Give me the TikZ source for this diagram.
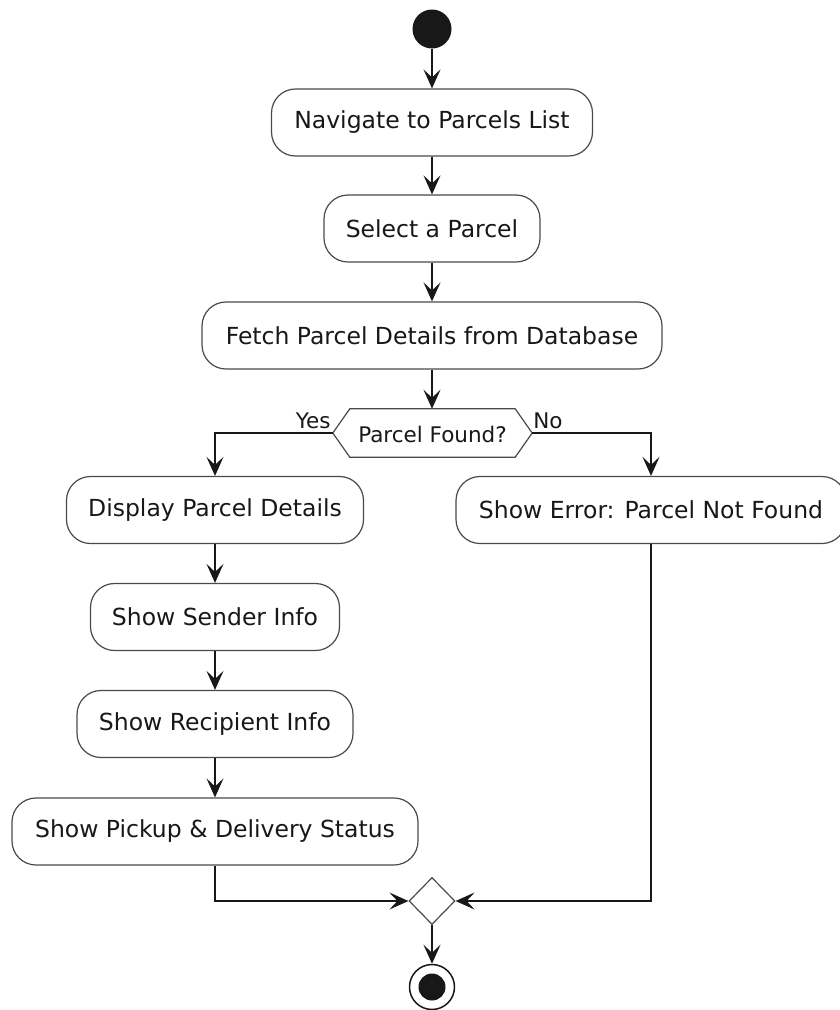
\documentclass[tikz,border=0pt]{standalone}
\usepackage{fontspec}
\setmainfont{DejaVu Sans}
\usetikzlibrary{arrows.meta,shapes.geometric}
\definecolor{ink}{HTML}{181818}
\definecolor{edge}{HTML}{4A4A4A}
\begin{document}
\begin{tikzpicture}[x=1pt,y=-1pt,
  act/.style={draw=edge, line width=1.2pt, fill=white, rounded corners=24pt,
    minimum height=67pt, inner sep=0pt, font=\fontsize{23.5}{28}\selectfont, text=ink},
  flow/.style={draw=ink, line width=1.7pt, -{Stealth[length=19pt,width=17pt,inset=8pt]}},
  small/.style={font=\fontsize{21.5}{26}\selectfont, text=ink, inner sep=0pt},
]
\useasboundingbox (0,0) rectangle (840,1010);

% start / end markers
\node[circle, fill=ink, minimum size=39pt, inner sep=0pt] (start) at (432,29) {};
\node[circle, draw=ink, line width=1.5pt, fill=white, minimum size=45pt, inner sep=0pt] (stop) at (432,987) {};
\node[circle, fill=ink, minimum size=27pt, inner sep=0pt] (stopdot) at (stop) {};

% main column
\node[act, minimum width=321pt] (nav)   at (432,122.5) {Navigate to Parcels List};
\node[act, minimum width=216pt] (sel)   at (432,228.5) {Select a Parcel};
\node[act, minimum width=460pt] (fetch) at (432,335.5) {Fetch Parcel Details from Database};

% decision
\node[small, minimum width=199pt, minimum height=48pt] (dec) at (432.5,433) {};
\draw[edge, line width=1.2pt, fill=white]
  (dec.west) -- ([xshift=17pt]dec.north west) -- ([xshift=-17pt]dec.north east)
  -- (dec.east) -- ([xshift=-17pt]dec.south east) -- ([xshift=17pt]dec.south west) -- cycle;
\node[small] (dectext) at ([yshift=-1.5pt]dec.center) {Parcel Found?};
\node[small, anchor=base east] (yes) at ([xshift=-2pt,yshift=5pt]dec.west) {Yes};
\node[small, anchor=base west] (no)  at ([xshift=1pt,yshift=5pt]dec.east) {No};

% branches
\node[act, minimum width=297pt] (disp)  at (215,510) {Display Parcel Details};
\node[act, minimum width=249pt] (send)  at (215,617) {Show Sender Info};
\node[act, minimum width=276pt] (recip) at (215,724) {Show Recipient Info};
\node[act, minimum width=406pt] (pick)  at (215,831.5) {Show Pickup \& Delivery Status};
\node[act, minimum width=390pt] (err)   at (651,510) {Show Error: Parcel Not Found};

% merge
\node[diamond, draw=edge, line width=1.2pt, fill=white, minimum width=46pt,
  minimum height=47pt, inner sep=0pt] (merge) at (432,901) {};

% connectors
\draw[flow] (start) -- (nav);
\draw[flow] (nav) -- (sel);
\draw[flow] (sel) -- (fetch);
\draw[flow] (fetch.south) -- (fetch.south |- dec.north);
\draw[flow] (dec.west) -| (disp.north);
\draw[flow] (dec.east) -| (err.north);
\draw[flow] (disp) -- (send);
\draw[flow] (send) -- (recip);
\draw[flow] (recip) -- (pick);
\draw[flow] (pick.south) |- (merge.west);
\draw[flow] (err.south) |- (merge.east);
\draw[flow] (merge.south) -- (stop.north);
\end{tikzpicture}
\end{document}
